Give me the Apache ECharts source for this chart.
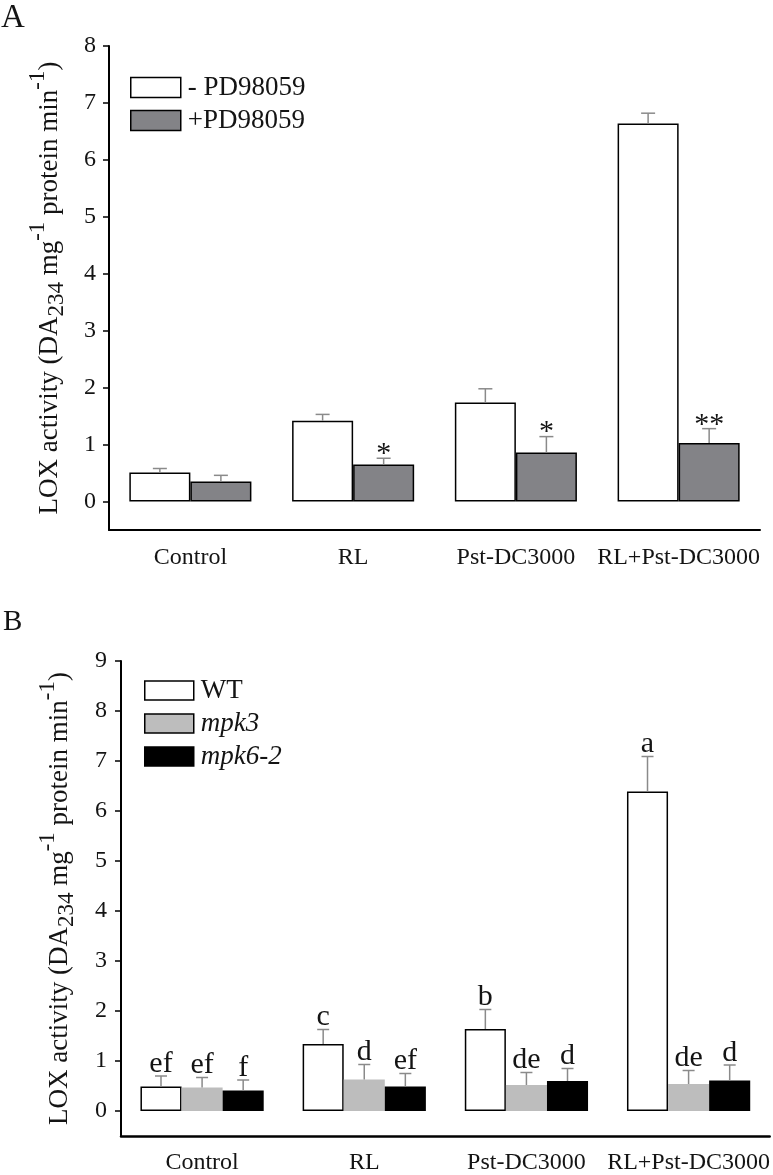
<!DOCTYPE html>
<html><head><meta charset="utf-8">
<script src="https://cdn.jsdelivr.net/npm/echarts@6/dist/echarts.min.js"></script>
<style>html,body{margin:0;padding:0;background:#fff}#c{width:773px;height:1175px}</style>
</head><body><div id="c"></div>
<script>
// ---------- data ----------
const categories = ['Control', 'RL', 'Pst-DC3000', 'RL+Pst-DC3000'];
// Panel A
const seriesNamesA = ['- PD98059', '+PD98059'];
const minusPD = [0.51, 1.42, 1.74, 6.64];
const minusPDErr = [0.07, 0.11, 0.24, 0.18];
const minusPDMarks = ['', '', '', ''];
const plusPD = [0.35, 0.65, 0.86, 1.03];
const plusPDErr = [0.11, 0.11, 0.28, 0.25];
const plusPDMarks = ['', '*', '*', '**'];
const yTicksA = [0, 1, 2, 3, 4, 5, 6, 7, 8];
// Panel B
const seriesNamesB = ['WT', 'mpk3', 'mpk6-2'];
const wt = [0.49, 1.34, 1.64, 6.39];
const wtErr = [0.21, 0.29, 0.39, 0.70];
const wtLetters = ['ef', 'c', 'b', 'a'];
const mpk3 = [0.47, 0.63, 0.52, 0.54];
const mpk3Err = [0.20, 0.30, 0.25, 0.27];
const mpk3Letters = ['ef', 'd', 'de', 'de'];
const mpk6 = [0.41, 0.49, 0.60, 0.61];
const mpk6Err = [0.21, 0.26, 0.25, 0.31];
const mpk6Letters = ['f', 'ef', 'd', 'd'];
const yTicksB = [0, 1, 2, 3, 4, 5, 6, 7, 8, 9];

// ---------- styling ----------
const FONT = '"Liberation Serif", "Times New Roman", serif';
const INK = '#141414';
const yName = '{n|LOX activity (DA}{sub|234}{n| mg}{sup|-1}{n| protein min}{sup|-1}{n|)}';
const yNameRich = {
  n: {fontFamily: FONT, fontSize: 27, height: 27, lineHeight: 27, color: INK},
  sup: {fontFamily: FONT, fontSize: 23, height: 23, lineHeight: 27, padding: [0, 0, 24, 0], color: INK},
  sub: {fontFamily: FONT, fontSize: 23, height: 23, lineHeight: 27, padding: [15, 0, 0, 0], color: INK}
};

function errSeries(xAxisIndex, yAxisIndex, groups, gapFrac, capW, fontSize, labelDy) {
  const data = [], labels = [];
  groups.forEach((g, k) => g.vals.forEach((v, i) => {
    data.push([i, v, g.errs[i], k]);
    labels.push(g.labels[i]);
  }));
  const n = groups.length;
  return {
    type: 'custom', xAxisIndex, yAxisIndex, z: 10, silent: true, data,
    renderItem(params, api) {
      const i = api.value(0), v = api.value(1), e = api.value(2), k = api.value(3);
      const b = api.coord([i, v]), t = api.coord([i, v + e]);
      const cw = api.size([1, 0])[0];
      const gw = cw * (1 - gapFrac), bw = gw / n;
      const x = b[0] - gw / 2 + bw * (k + 0.5);
      const st = {stroke: '#8a8a8a', lineWidth: 1.5};
      const children = [
        {type: 'line', shape: {x1: x, y1: b[1], x2: x, y2: t[1]}, style: st},
        {type: 'line', shape: {x1: x - capW / 2, y1: t[1], x2: x + capW / 2, y2: t[1]}, style: st}
      ];
      const lab = labels[params.dataIndex];
      if (lab) {
        children.push({type: 'text', style: {text: lab, x: x, y: t[1] + labelDy,
          textAlign: 'center', textVerticalAlign: 'bottom', fontFamily: FONT, fontSize: fontSize, fill: INK}});
      }
      return {type: 'group', children};
    }
  };
}

const chart = echarts.init(document.getElementById('c'), null, {renderer: 'canvas'});
const option = {
  backgroundColor: '#fff',
  animation: false,
  title: [
    {text: 'A', left: 1, top: 2, padding: 0, textStyle: {fontFamily: FONT, fontSize: 33, fontWeight: 'normal', color: INK}},
    {text: 'B', left: 3, top: 608, padding: 0, textStyle: {fontFamily: FONT, fontSize: 29, fontWeight: 'normal', color: INK}}
  ],
  legend: [
    {data: seriesNamesA, orient: 'vertical', left: 130, top: 74, itemWidth: 50, itemHeight: 20, itemGap: 6,
      icon: 'rect', selectedMode: false, padding: 0,
      itemStyle: {borderColor: '#000', borderWidth: 1.5},
      textStyle: {fontFamily: FONT, fontSize: 27, color: INK, padding: [0, 0, 0, 2]}},
    {data: seriesNamesB, orient: 'vertical', left: 144, top: 677, itemWidth: 49, itemHeight: 19, itemGap: 6,
      icon: 'rect', selectedMode: false, padding: 0,
      itemStyle: {borderColor: '#000', borderWidth: 1.5},
      formatter: name => name === 'WT' ? name : '{i|' + name + '}',
      textStyle: {fontFamily: FONT, fontSize: 27, color: INK, padding: [0, 0, 0, 2],
        rich: {i: {fontFamily: FONT, fontSize: 27, fontStyle: 'italic', color: INK}}}}
  ],
  grid: [
    {left: 109, right: 13, top: 46, height: 484},
    {left: 121, right: 3, top: 661, height: 485}
  ],
  xAxis: [
    {type: 'category', gridIndex: 0, data: categories, boundaryGap: true,
      axisLine: {onZero: false, lineStyle: {color: '#000', width: 2}},
      axisTick: {interval: 0, alignWithLabel: false, length: 5, lineStyle: {color: '#000', width: 1.5}},
      axisLabel: {interval: 0, fontFamily: FONT, fontSize: 24, color: INK, margin: 16}},
    {type: 'category', gridIndex: 0, data: categories, boundaryGap: true,
      axisLine: {show: false, onZero: false},
      axisTick: {interval: 0, alignWithLabel: true, length: 9, lineStyle: {color: '#000', width: 1.5}},
      axisLabel: {show: false}},
    {type: 'category', gridIndex: 1, data: categories, boundaryGap: true,
      axisLine: {onZero: false, lineStyle: {color: '#000', width: 2.5}},
      axisTick: {interval: 0, alignWithLabel: false, length: 6, lineStyle: {color: '#000', width: 1.5}},
      axisLabel: {interval: 0, fontFamily: FONT, fontSize: 24, color: INK, margin: 15}}
  ],
  yAxis: [
    {type: 'value', gridIndex: 0, min: -0.5, max: 8,
      name: yName, nameLocation: 'middle', nameRotate: 90, nameGap: 36,
      nameTextStyle: {fontFamily: FONT, fontSize: 27, color: INK, rich: yNameRich},
      splitLine: {show: false},
      axisLine: {show: true, lineStyle: {color: '#000', width: 2}},
      axisTick: {show: true, length: 6, customValues: yTicksA, lineStyle: {color: '#000', width: 1.5}},
      axisLabel: {customValues: yTicksA, fontFamily: FONT, fontSize: 24, color: INK, margin: 13}},
    {type: 'value', gridIndex: 1, min: -0.5, max: 9,
      name: yName, nameLocation: 'middle', nameRotate: 90, nameGap: 48,
      nameTextStyle: {fontFamily: FONT, fontSize: 27, color: INK, rich: yNameRich},
      splitLine: {show: false},
      axisLine: {show: true, lineStyle: {color: '#000', width: 2}},
      axisTick: {show: true, length: 6, customValues: yTicksB, lineStyle: {color: '#000', width: 1.5}},
      axisLabel: {customValues: yTicksB, fontFamily: FONT, fontSize: 24, color: INK, margin: 14}}
  ],
  series: [
    {name: seriesNamesA[0], type: 'bar', xAxisIndex: 0, yAxisIndex: 0, data: minusPD,
      barGap: '0%', barCategoryGap: '25%',
      itemStyle: {color: '#ffffff', borderColor: '#000', borderWidth: 1.5}},
    {name: seriesNamesA[1], type: 'bar', xAxisIndex: 0, yAxisIndex: 0, data: plusPD,
      barGap: '0%', barCategoryGap: '25%',
      itemStyle: {color: '#838387', borderColor: '#000', borderWidth: 1.5}},
    errSeries(0, 0, [
      {vals: minusPD, errs: minusPDErr, labels: minusPDMarks},
      {vals: plusPD, errs: plusPDErr, labels: plusPDMarks}
    ], 0.25, 14, 30, 11),
    {name: seriesNamesB[0], type: 'bar', xAxisIndex: 2, yAxisIndex: 1, data: wt,
      barGap: '0%', barCategoryGap: '24%',
      itemStyle: {color: '#ffffff', borderColor: '#000', borderWidth: 1.5}},
    {name: seriesNamesB[1], type: 'bar', xAxisIndex: 2, yAxisIndex: 1, data: mpk3,
      barGap: '0%', barCategoryGap: '24%',
      itemStyle: {color: '#bdbdbd', borderWidth: 0}},
    {name: seriesNamesB[2], type: 'bar', xAxisIndex: 2, yAxisIndex: 1, data: mpk6,
      barGap: '0%', barCategoryGap: '24%',
      itemStyle: {color: '#000000', borderWidth: 0}},
    errSeries(2, 1, [
      {vals: wt, errs: wtErr, labels: wtLetters},
      {vals: mpk3, errs: mpk3Err, labels: mpk3Letters},
      {vals: mpk6, errs: mpk6Err, labels: mpk6Letters}
    ], 0.24, 12, 30, 3)
  ]
};
chart.setOption(option);
</script>
</body></html>
